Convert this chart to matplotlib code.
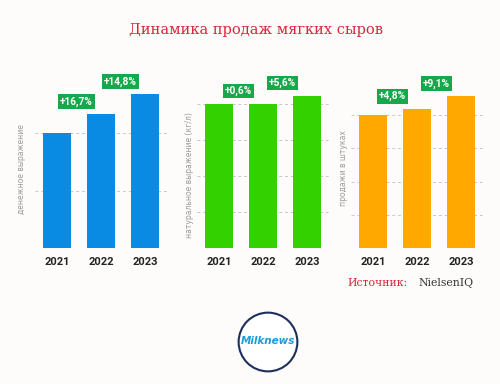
import matplotlib
matplotlib.use('Agg')
import matplotlib.pyplot as plt
from matplotlib.patches import Circle

# data
years = ['2021', '2022', '2023']
money = [100, 116.7, 134.0]
volume = [100, 100.6, 106.2]
pieces = [100, 104.8, 114.3]
money_growth = ['+16,7%', '+14,8%']
volume_growth = ['+0,6%', '+5,6%']
pieces_growth = ['+4,8%', '+9,1%']
ylabels = ['денежное выражение', 'натуральное выражение (кг/л)', 'продажи в штуках']

bg = '#fdfcfb'
fig = plt.figure(figsize=(5, 3.84), dpi=100, facecolor=bg)

panels = [
    (money, money_growth, '#0a8be3', 50, 140, 0.070, (0.044, 0.56)),
    (volume, volume_growth, '#33d100', 25, 112, 0.394, (0.380, 0.544)),
    (pieces, pieces_growth, '#ffa800', 25, 121, 0.702, (0.686, 0.5625)),
]

for idx, (vals, growth, color, step, top, left, lab_pos) in enumerate(panels):
    ax = fig.add_axes([left, 0.354, 0.264, 0.419])
    ax.set_facecolor(bg)
    x = range(len(years))
    ax.bar(x, vals, width=0.64, color=color, zorder=2)
    ax.set_xlim(-0.5, 2.5)
    ax.set_ylim(0, top)
    ax.set_yticks([t for t in range(0, int(top) + 1, step)])
    ax.yaxis.grid(True, linestyle=(0, (3, 3)), color='#c8c8c8', linewidth=0.7, zorder=0)
    ax.tick_params(left=False, labelleft=False, bottom=False, pad=3)
    ax.set_xticks(list(x))
    ax.set_xticklabels(years, fontsize=8, fontweight='bold', color='#222222', family='Roboto')
    for s in ax.spines.values():
        s.set_visible(False)
    for i, g in enumerate(growth):
        ax.annotate(g, xy=(i + 0.44, vals[i + 1]), xytext=(0, 9), textcoords='offset points',
                    ha='center', va='center', fontsize=7.3, fontweight='bold', color='white',
                    family='Roboto',
                    bbox=dict(boxstyle='square,pad=0.22', fc='#18a84c', ec='none'))
    fig.text(lab_pos[0], lab_pos[1], ylabels[idx], rotation=90, ha='center', va='center',
             fontsize=5.5, color='#9a9a9a')

fig.text(0.512, 0.922, 'Динамика продаж мягких сыров', ha='center', va='center',
         fontsize=10.5, family='DejaVu Serif', color='#d9263b')

fig.text(0.694, 0.263, 'Источник:', ha='left', va='center', fontsize=7.8,
         family='DejaVu Serif', color='#d9263b')
fig.text(0.836, 0.263, 'NielsenIQ', ha='left', va='center', fontsize=7.8,
         family='DejaVu Serif', color='#333333')

# logo
lax = fig.add_axes([(268 - 34) / 500, 1 - (342 + 34) / 384, 68 / 500, 68 / 384])
lax.set_xlim(-1.1, 1.1)
lax.set_ylim(-1.1, 1.1)
lax.set_aspect('equal')
lax.axis('off')
lax.add_patch(Circle((0, 0), 0.95, fc='white', ec='#1d2f5c', lw=1.5))
lax.text(0, 0.02, 'Milknews', ha='center', va='center', fontsize=7.5, fontweight='bold',
         style='italic', color='#1a9bdc')

fig.savefig('out.png', dpi=100, facecolor=bg)
